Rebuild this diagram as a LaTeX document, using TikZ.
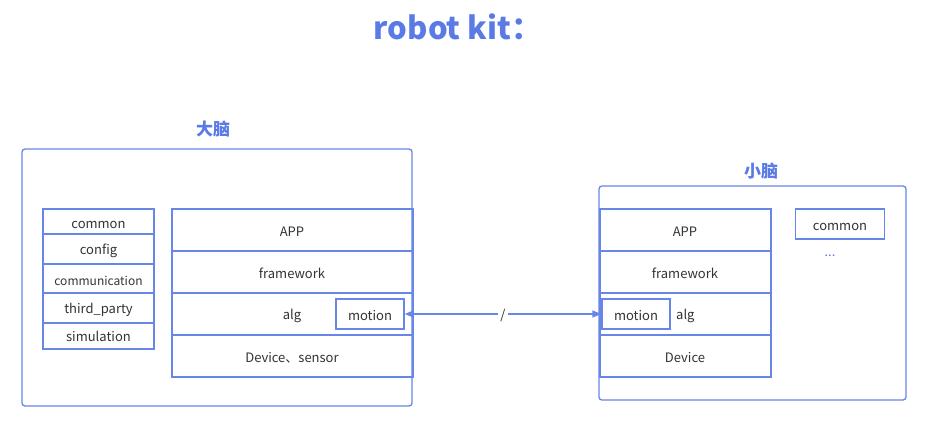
\documentclass[tikz,border=0pt]{standalone}
\usepackage{fontspec}
\setmainfont{Noto Sans CJK SC}
\usetikzlibrary{arrows.meta}
\definecolor{lineblue}{RGB}{104,134,232}
\definecolor{titleblue}{RGB}{90,122,230}
\definecolor{txt}{RGB}{51,51,51}
\tikzset{
  x=1pt, y=-1pt,
  frame/.style={draw=lineblue, line width=1.3pt, rounded corners=3pt},
  cell/.style={draw=lineblue, line width=1.3pt, text=txt, font=\fontsize{13}{15}\selectfont, text height=12pt, text depth=0pt},
  lbl/.style={text=txt, font=\fontsize{13}{15}\selectfont, inner sep=0pt, yshift=-1.5pt},
  ttl/.style={text=titleblue, font=\fontsize{17}{20}\selectfont\bfseries, inner sep=0pt},
}
\begin{document}
\begin{tikzpicture}
\useasboundingbox (0,0) rectangle (930,437);
\fill[white] (0,0) rectangle (930,437);
\node[text=titleblue, font=\fontsize{31}{36}\selectfont\bfseries, inner sep=0pt] (title) at (458,27) {robot kit：};

% big brain
\draw[frame] (22,149) rectangle (412,406);
\node[ttl] (bigttl) at (213,129) {大脑};
% left stack
\foreach \ya/\yb/\yt/\t/\n in {209/234/223/common/c1, 234/264/249/config/c2, 264/293/279.5/{\fontsize{12}{14}\selectfont communication}/c3, 293/323/308.5/third\_party/c4, 323/349/335/simulation/c5}{
  \draw[cell] (43,\ya) rectangle (154,\yb);
  \node[lbl] (\n) at (98.5,\yt) {\t};
}
% right stack
\foreach \ya/\yb in {209/251, 251/293, 293/335, 335/377}{
  \draw[cell] (172,\ya) rectangle (413,\yb);
}
\node[lbl] (bapp) at (292,230) {APP};
\node[lbl] (bfw) at (292,272) {framework};
\node[lbl] (balg) at (292,314) {alg};
\node[lbl] (bdev) at (292,356) {Device、sensor};
\node[cell, minimum width=68pt, minimum height=30pt, inner sep=0pt] (mot1) at (370,314) {motion};

% small brain
\draw[frame] (599,186) rectangle (906,400);
\node[ttl] (smallttl) at (761,171) {小脑};
\foreach \ya/\yb in {209/251, 251/293, 293/335, 335/377}{
  \draw[cell] (600,\ya) rectangle (771,\yb);
}
\node[lbl] (sapp) at (685,230) {APP};
\node[lbl] (sfw) at (685,272) {framework};
\node[lbl, anchor=west] (salg) at (676,314) {alg};
\node[lbl] (sdev) at (685,356) {Device};
\node[cell, minimum width=68pt, minimum height=30pt, inner sep=0pt] (mot2) at (636,314) {motion};
\node[cell, minimum width=89pt, minimum height=30pt, inner sep=0pt] (scommon) at (840,224) {common};
\node[text=titleblue, font=\fontsize{13}{15}\selectfont, inner sep=0pt] (dots) at (830,256) {...};

% connector
\draw[draw=lineblue, line width=1.3pt, {Triangle[length=9pt,width=7pt]}-{Triangle[length=9pt,width=7pt]}] (mot1.east) -- node[fill=white, lbl, inner sep=2pt, yshift=0pt] (slash) {/} (mot2.west);
\end{tikzpicture}
\end{document}
